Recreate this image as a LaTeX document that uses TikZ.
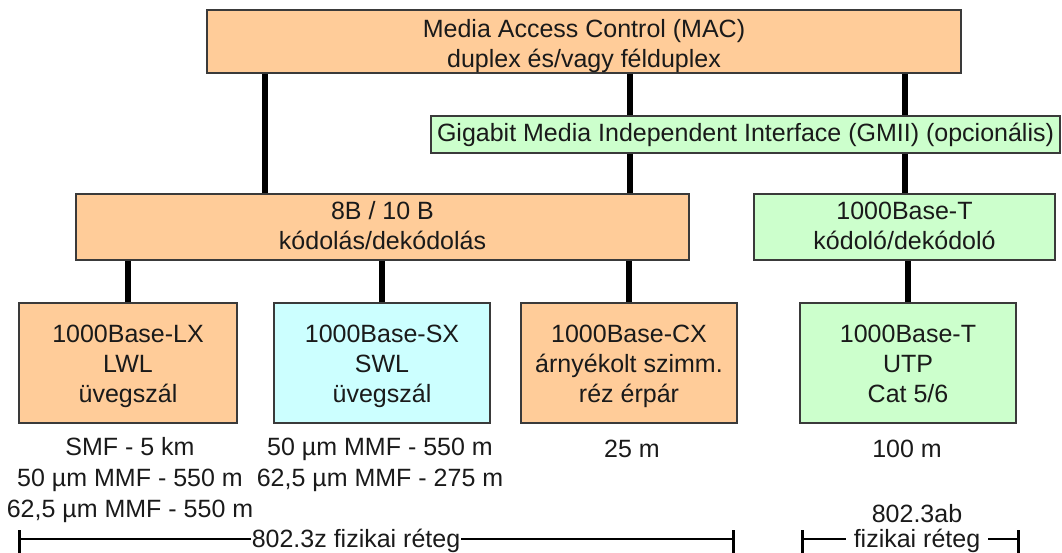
\documentclass[tikz,border=0pt]{standalone}
\usepackage{fontspec}
\setmainfont{Liberation Sans}
\usetikzlibrary{positioning}
\definecolor{macorange}{HTML}{FFCC99}
\definecolor{optcyan}{HTML}{CCFFFF}
\definecolor{lightgreen}{HTML}{CCFFCC}
\definecolor{edgegray}{HTML}{3A3A3A}
\definecolor{inkc}{HTML}{1A1A1A}
% stacked lines, drawn a little below the box centre without changing the box size
\newcommand\boxlines[2][3pt]{\raisebox{-#1}[\height][\depth]{\begin{tabular}{@{}c@{}}#2\end{tabular}}}
\tikzset{
  txt/.style={font=\fontsize{25}{30}\selectfont, text=inkc, align=center, inner sep=0pt},
  box/.style={txt, draw=edgegray, line width=1.6pt, minimum height=#1},
  box/.default=120pt,
  orange/.style={fill=macorange},
  cyan/.style={fill=optcyan},
  green/.style={fill=lightgreen},
  link/.style={line width=5.5pt, draw=black},
  measure/.style={txt, font=\fontsize{25}{31}\selectfont},
  span/.style={line width=2.5pt, draw=black},
  spantick/.style={line width=3pt, draw=black}
}
\begin{document}
\begin{tikzpicture}[x=1pt, y=-1pt]
\useasboundingbox (0,0) rectangle (1062,553);

% layer boxes
\node[box=63pt, orange, minimum width=754pt] (mac) at (584,41.5)
  {\boxlines[5pt]{Media Access Control (MAC)\\duplex és/vagy félduplex}};
\node[box=37pt, green, minimum width=629pt] (gmii) at (745.5,134.5)
  {\boxlines[1pt]{Gigabit Media Independent Interface (GMII) (opcionális)}};
\node[box=66pt, orange, minimum width=613pt] (enc) at (382.5,227)
  {\boxlines[2pt]{8B / 10 B\\kódolás/dekódolás}};
\node[box=66pt, green, minimum width=301pt] (tenc) at (904.5,227)
  {\boxlines[2pt]{1000Base-T\\kódoló/dekódoló}};

% physical media
\node[box, orange, minimum width=218pt] (lx) at (128,363)
  {\boxlines{1000Base-LX\\LWL\\üvegszál}};
\node[box, cyan, minimum width=216pt] (sx) at (382,363)
  {\boxlines{1000Base-SX\\SWL\\üvegszál}};
\node[box, orange, minimum width=216pt] (cx) at (629,363)
  {\boxlines{1000Base-CX\\árnyékolt szimm.\\réz érpár}};
\node[box, green, minimum width=216pt] (bt) at (908,363)
  {\boxlines{1000Base-T\\UTP\\Cat 5/6}};

% connectors
\coordinate (xa) at (265,0);
\coordinate (xb) at (630,0);
\coordinate (xc) at (905,0);
\draw[link] (mac.south -| xa) -- (enc.north -| xa);
\draw[link] (mac.south -| xb) -- (gmii.north -| xb);
\draw[link] (mac.south -| xc) -- (gmii.north -| xc);
\draw[link] (gmii.south -| xb) -- (enc.north -| xb);
\draw[link] (gmii.south -| xc) -- (tenc.north -| xc);
\draw[link] (lx.north) -- (lx.north |- enc.south);
\draw[link] (sx.north) -- (sx.north |- enc.south);
\draw[link] (cx.north) -- (cx.north |- enc.south);
\draw[link] (bt.north) -- (bt.north |- tenc.south);

% reach per medium
\node[measure] (dlx) at (130,480) {SMF - 5 km\\50 µm MMF - 550 m\\62,5 µm MMF - 550 m};
\node[measure] (dsx) at (380,464.5) {50 µm MMF - 550 m\\62,5 µm MMF - 275 m};
\node[measure] (dcx) at (632,449) {25 m};
\node[measure] (dbt) at (907,449) {100 m};

% standard spans
\node[txt, inner xsep=1pt] (z) at (356,541) {802.3z fizikai réteg};
\coordinate (z1) at (19,539);
\coordinate (z2) at (733,539);
\draw[span] (z1) -- (z.west |- z1);
\draw[span] (z.east |- z2) -- (z2);
\draw[spantick] (19,530) -- (19,553);
\draw[spantick] (733,530) -- (733,553);

\node[txt] (ab1) at (917,514) {802.3ab};
\node[txt, inner xsep=8pt] (ab2) at (917,541) {fizikai réteg};
\coordinate (a1) at (802,539);
\coordinate (a2) at (1018,539);
\draw[span] (a1) -- (ab2.west |- a1);
\draw[span] (ab2.east |- a2) -- (a2);
\draw[spantick] (802,530) -- (802,553);
\draw[spantick] (1018,530) -- (1018,553);
\end{tikzpicture}
\end{document}
